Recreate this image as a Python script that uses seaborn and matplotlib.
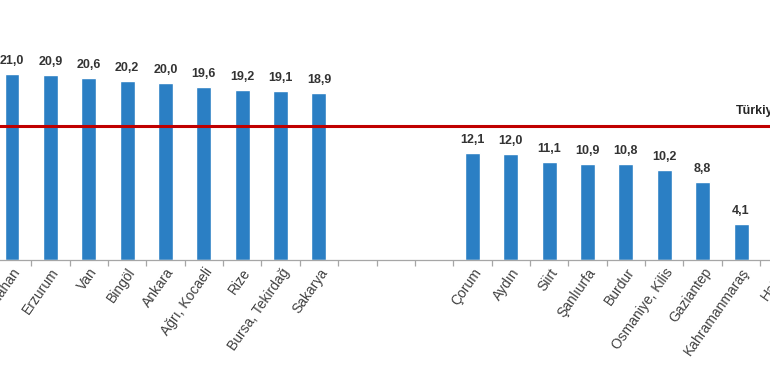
import numpy as np
import pandas as pd
import matplotlib
matplotlib.use("Agg")
import matplotlib.pyplot as plt
import seaborn as sns

# ---- data (three blank slots form the gap) ----
categories = ["Ardahan", "Erzurum", "Van", "Bingöl", "Ankara", "Ağrı, Kocaeli",
              "Rize", "Bursa, Tekirdağ", "Sakarya", " ", "  ", "   ",
              "Çorum", "Aydın", "Siirt", "Şanlıurfa", "Burdur", "Osmaniye, Kilis",
              "Gaziantep", "Kahramanmaraş", "Hatay"]
values = [21.0, 20.9, 20.6, 20.2, 20.0, 19.6, 19.2, 19.1, 18.9,
          np.nan, np.nan, np.nan,
          12.1, 12.0, 11.1, 10.9, 10.8, 10.2, 8.8, 4.1,
          np.nan]  # Hatay lies outside the visible area
turkiye_value = 15.1
turkiye_label = "Türkiye"

df = pd.DataFrame({"il": categories, "deger": values})

sns.set_theme(style="white")
plt.rcParams["font.family"] = ["Liberation Sans", "DejaVu Sans"]

W, H = 770, 375
fig = plt.figure(figsize=(W / 100, H / 100), dpi=100)

step = 38.37          # px per category
x0 = 12.0             # px of first category centre
xl = (-0.6, 20.6)
left_px = x0 + xl[0] * step
right_px = x0 + xl[1] * step
base_px = 260.0
ppu = 8.85
ymax = 25
top_px = base_px - ymax * ppu
ax = fig.add_axes([left_px / W, (H - base_px) / H,
                   (right_px - left_px) / W, (base_px - top_px) / H])

sns.barplot(data=df, x="il", y="deger", order=categories, color="#2B7FC4",
            saturation=1, width=0.39, ax=ax, errorbar=None)

ax.set_xlim(*xl)
ax.set_ylim(0, ymax)

for c in ax.containers:
    labels = []
    for p in c:
        h = p.get_height()
        labels.append("" if not np.isfinite(h) or h == 0 else f"{h:.1f}".replace(".", ","))
    ax.bar_label(c, labels=labels, padding=5, fontsize=9, fontweight="bold", color="#333333")

ax.axhline(turkiye_value, color="#C00000", lw=2.2, zorder=5)
ax.text(18.87, turkiye_value + 1.1, turkiye_label, fontsize=9, fontweight="bold",
        color="#262626", ha="left", va="bottom")

for s in ["left", "right", "top"]:
    ax.spines[s].set_visible(False)
ax.spines["bottom"].set_color("#A6A6A6")
ax.spines["bottom"].set_linewidth(0.9)
ax.set_yticks([])
ax.set_xlabel("")
ax.set_ylabel("")

ax.set_xticks(range(len(categories)))
ax.set_xticklabels(categories, rotation=55, ha="right", va="top",
                   rotation_mode="anchor", fontsize=10, color="#404040")
ax.tick_params(axis="x", which="major", length=0, pad=4)
ax.set_xticks(np.arange(-0.5, len(categories), 1.0), minor=True)
ax.tick_params(axis="x", which="minor", length=4, width=0.9, color="#A6A6A6",
               direction="out", bottom=True)

fig.savefig("out.png", dpi=100)
